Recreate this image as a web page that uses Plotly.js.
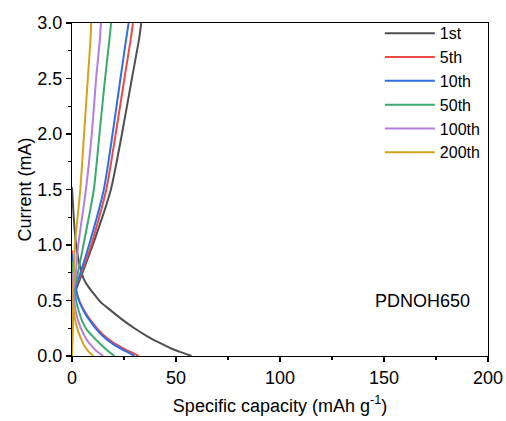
<!DOCTYPE html>
<html>
<head>
<meta charset="utf-8">
<script src="https://cdn.plot.ly/plotly-3.0.1.min.js"></script>
<style>html,body{margin:0;padding:0;background:#fff}#chart{width:506px;height:421px}</style>
</head>
<body>
<div id="chart"></div>
<script>
// Series names
const seriesNames = ["1st", "5th", "10th", "50th", "100th", "200th"];
const seriesColors = ["#4f4f4f", "#ec4a45", "#2f6fe6", "#3aab6c", "#b57de3", "#d5a21a"];

// Discharge curves (capacity, mAh/g ; current, mA)
const dis1X = [0, 0.5, 1.2, 2, 3, 4.2, 5.5, 8, 10.5, 13.5, 18, 24, 30, 36, 42, 48, 53, 57.5];
const dis1Y = [1.52, 1.35, 1.15, 1.0, 0.88, 0.78, 0.70, 0.62, 0.56, 0.49, 0.42, 0.33, 0.25, 0.18, 0.12, 0.065, 0.03, 0];
const dis5X = [0, 0.8, 1.6, 2.3, 3.5, 5, 7.5, 10.3, 13.5, 17, 21.6, 26, 29.5, 32];
const dis5Y = [0.95, 0.78, 0.65, 0.57, 0.5, 0.44, 0.36, 0.29, 0.22, 0.16, 0.10, 0.055, 0.025, 0];
const dis10X = [0, 0.8, 1.5, 2.2, 3.3, 4.7, 7, 9.7, 12.7, 16, 20.3, 24.5, 27.7, 30];
const dis10Y = [0.92, 0.76, 0.65, 0.57, 0.5, 0.44, 0.36, 0.29, 0.22, 0.16, 0.10, 0.055, 0.025, 0];
const dis50X = [0, 0.6, 1.3, 2.3, 3.5, 5, 7, 10.3, 13.5, 17, 20.4];
const dis50Y = [0.85, 0.7, 0.58, 0.47, 0.39, 0.31, 0.24, 0.17, 0.11, 0.05, 0];
const dis100X = [0, 0.5, 1.2, 2.3, 3.5, 5, 7, 9, 11.5, 13.5, 15.1];
const dis100Y = [0.75, 0.6, 0.47, 0.36, 0.29, 0.22, 0.15, 0.10, 0.05, 0.02, 0];
const dis200X = [0, 0.4, 0.9, 1.8, 3, 4.5, 6, 8, 10.3];
const dis200Y = [0.65, 0.5, 0.4, 0.3, 0.22, 0.15, 0.09, 0.04, 0];

// Charge curves: shared current levels, capacity per cycle
const chargeY = [0, 0.4, 0.6, 0.7, 1.0, 1.5, 2.0, 2.5, 2.85, 3.0];
const chg1X = [0, 0.3, 2, 4, 10, 18.7, 24, 28.8, 32.2, 33.3];
const chg5X = [0, 0.3, 1.5, 3.5, 9.3, 16.5, 21, 25.2, 28.2, 29.3];
const chg10X = [0, 0.3, 1.3, 3.2, 8.2, 15.3, 19.5, 23.3, 26.0, 27.2];
const chg50X = [0, 0.3, 1, 2.3, 5.5, 10.5, 13.2, 15.9, 18.0, 18.8];
const chg100X = [0, 0.2, 0.7, 1.6, 3.0, 6.7, 9.5, 11.6, 13.4, 13.9];
const chg200X = [0, 0.1, 0.4, 0.9, 1.4, 4.0, 5.8, 7.6, 8.9, 9.2];

const sampleLabel = "PDNOH650";

const disX = [dis1X, dis5X, dis10X, dis50X, dis100X, dis200X];
const disY = [dis1Y, dis5Y, dis10Y, dis50Y, dis100Y, dis200Y];
const chgX = [chg1X, chg5X, chg10X, chg50X, chg100X, chg200X];

const FONT = "Liberation Sans, Arial, sans-serif";
const traces = [];
seriesNames.forEach((name, i) => {
  traces.push({
    x: disX[i], y: disY[i], type: "scatter", mode: "lines", name: name,
    legendgroup: name, showlegend: true,
    line: {color: seriesColors[i], width: 2, shape: "spline", smoothing: 0.6}
  });
  traces.push({
    x: chgX[i], y: chargeY, type: "scatter", mode: "lines", name: name,
    legendgroup: name, showlegend: false,
    line: {color: seriesColors[i], width: 2, shape: "spline", smoothing: 0.6}
  });
});

const layout = {
  width: 506, height: 421,
  margin: {l: 72, r: 18, t: 23, b: 65},
  paper_bgcolor: "#fff", plot_bgcolor: "#fff",
  font: {family: FONT, size: 18, color: "#000"},
  showlegend: true,
  legend: {
    x: 0.74, y: 1.02, xanchor: "left", yanchor: "top",
    bgcolor: "rgba(0,0,0,0)", borderwidth: 0,
    font: {family: FONT, size: 16, color: "#000"},
    itemwidth: 50, tracegroupgap: 0
  },
  xaxis: {
    range: [0, 200], dtick: 50, tick0: 0,
    showline: true, mirror: true, linecolor: "#000", linewidth: 1.2,
    ticks: "outside", ticklen: 5, tickwidth: 1.2, tickcolor: "#000",
    minor: {dtick: 25, ticks: "outside", ticklen: 3, tickwidth: 1.2, tickcolor: "#000", showgrid: false},
    showgrid: false, zeroline: false,
    tickfont: {family: FONT, size: 18, color: "#000"},
    title: {text: "Specific capacity (mAh g<sup>-1</sup>)", font: {family: FONT, size: 18, color: "#000"}, standoff: 12}
  },
  yaxis: {
    range: [0, 3], dtick: 0.5, tick0: 0, tickformat: ".1f",
    showline: true, mirror: true, linecolor: "#000", linewidth: 1.2,
    ticks: "outside", ticklen: 5, tickwidth: 1.2, tickcolor: "#000",
    minor: {dtick: 0.25, ticks: "outside", ticklen: 3, tickwidth: 1.2, tickcolor: "#000", showgrid: false},
    showgrid: false, zeroline: false,
    tickfont: {family: FONT, size: 18, color: "#000"},
    title: {text: "Current (mA)", font: {family: FONT, size: 18, color: "#000"}, standoff: 0}
  },
  annotations: [{
    x: 168.5, y: 0.5, xref: "x", yref: "y", text: sampleLabel, showarrow: false,
    font: {family: FONT, size: 18, color: "#000"}
  }]
};

Plotly.newPlot("chart", traces, layout, {displayModeBar: false, staticPlot: true});
</script>
</body>
</html>
